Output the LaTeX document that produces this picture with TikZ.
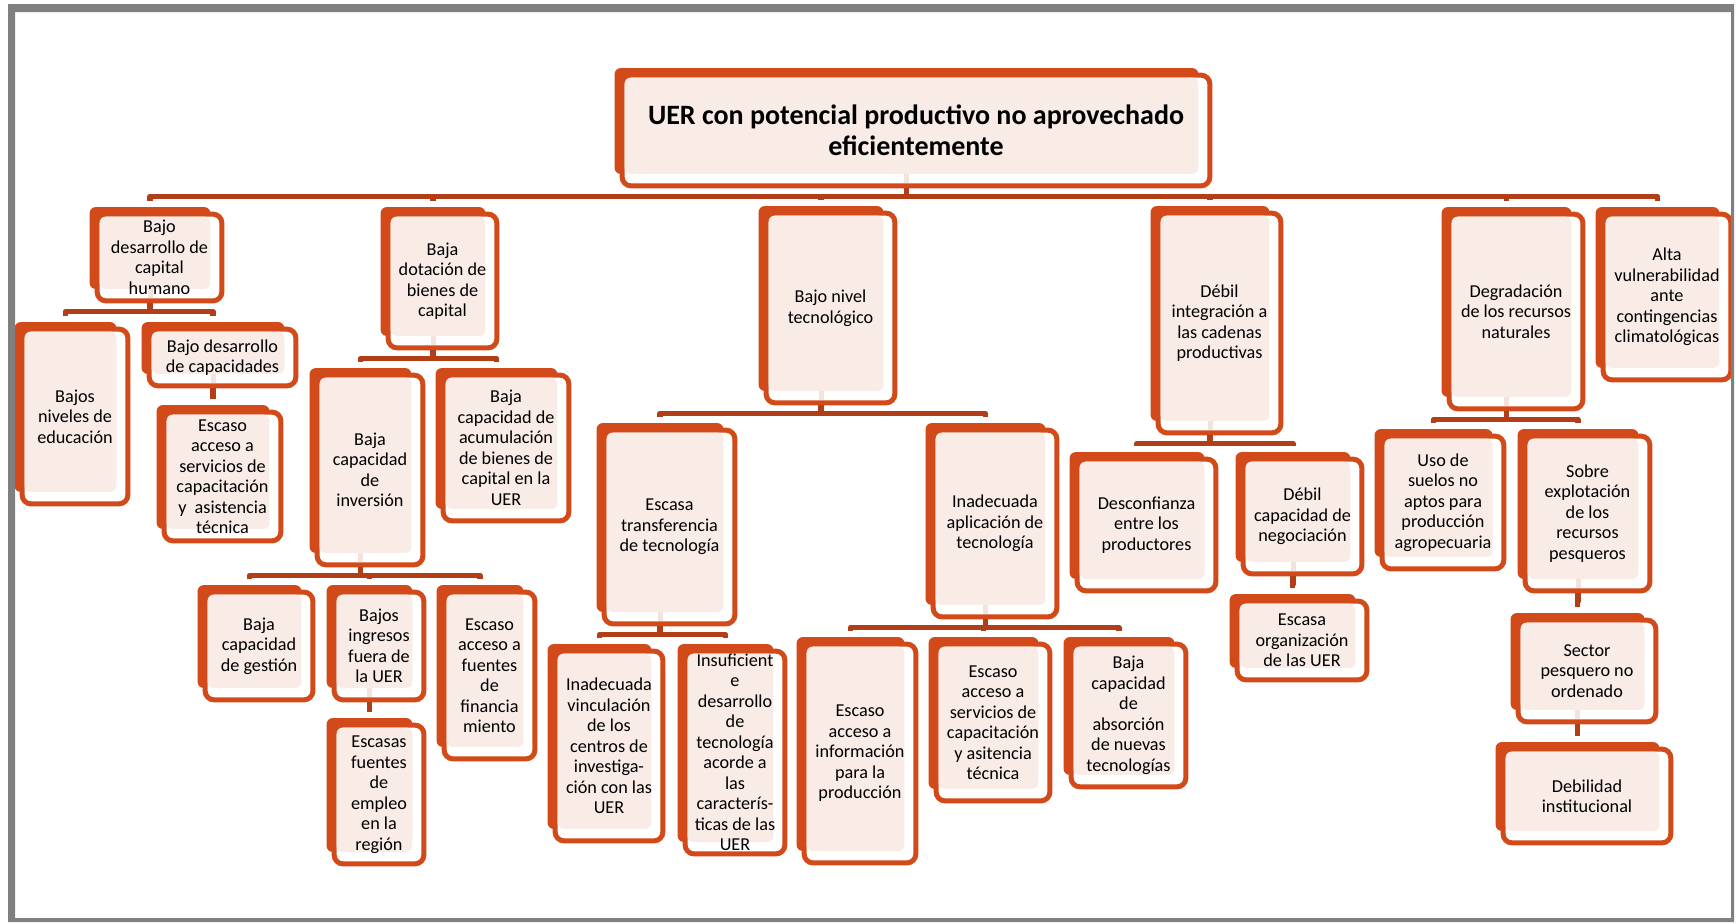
\documentclass[tikz,border=0pt]{standalone}
\usepackage{fontspec}
\setmainfont{Carlito}
\usetikzlibrary{calc}
\definecolor{boxclr}{RGB}{210,74,26}
\definecolor{busclr}{RGB}{178,62,24}
\definecolor{pinkclr}{RGB}{249,235,230}
\definecolor{framegray}{RGB}{128,128,128}
\pgfdeclarelayer{bg}
\pgfdeclarelayer{deco}
\pgfsetlayers{bg,deco,main}

\begin{document}
\begin{tikzpicture}[x=0.5pt,y=-0.5pt,
  cbox/.style={rectangle,inner sep=0pt,align=center,text=black,font=\fontsize{9.1}{10.25}\selectfont},
  sz/.style 2 args={minimum width=#1*0.5pt,minimum height=#2*0.5pt},
  busln/.style={busclr,line width=2.75pt,line join=round,shorten >=3pt},
  stubln/.style={busclr!15,line width=2.5pt}]
  \useasboundingbox (0,0) rectangle (1736,923);
  \begin{pgfonlayer}{bg}
    \fill[white] (0,0) rectangle (1736,923);
  \end{pgfonlayer}
  % top problem
  \node[cbox,sz={592}{115},font=\fontsize{14}{15.3}\selectfont\bfseries] (title) at (916,130.5) {UER con potencial productivo no aprovechado\\eficientemente};
  % first row
  \node[cbox,sz={129}{91}] (capHum) at (159.5,257.5) {Bajo\\desarrollo de\\capital\\humano};
  \node[cbox,sz={113}{138}] (dotacion) at (442.5,281) {Baja\\dotación de\\bienes de\\capital};
  \node[cbox,sz={133}{194}] (nivTec) at (830.5,308) {Bajo nivel\\tecnológico};
  \node[cbox,sz={127}{224}] (integ) at (1219.5,323) {Débil\\integración a\\las cadenas\\productivas};
  \node[cbox,sz={138}{199}] (degrad) at (1516,311.5) {Degradación\\de los recursos\\naturales};
  \node[cbox,sz={132}{170}] (vulner) at (1667,297) {Alta\\vulnerabilidad\\ante\\contingencias\\climatológicas};
  % capital humano
  \node[cbox,sz={110}{179}] (educ) at (75,416.5) {Bajos\\niveles de\\educación};
  \node[cbox,sz={151}{61}] (capac) at (222.5,357.5) {Bajo desarrollo\\de capacidades};
  \node[cbox,sz={121}{133}] (servA) at (222.5,476.5) {Escaso\\acceso a\\servicios de\\capacitación\\y\ \ asistencia\\técnica};
  % bienes de capital
  \node[cbox,sz={110}{194}] (invers) at (370,470) {Baja\\capacidad\\de\\inversión};
  \node[cbox,sz={130}{150}] (acumul) at (506,448) {Baja\\capacidad de\\acumulación\\de bienes de\\capital en la\\UER};
  \node[cbox,sz={112}{112}] (gestion) at (259,646) {Baja\\capacidad\\de gestión};
  \node[cbox,sz={94}{112}] (ingresos) at (379,646) {Bajos\\ingresos\\fuera de\\la UER};
  \node[cbox,sz={94}{143}] (empleo) at (379,794.5) {Escasas\\fuentes\\de\\empleo\\en la\\región};
  \node[cbox,sz={95}{171}] (financ) at (489.5,675.5) {Escaso\\acceso a\\fuentes\\de\\financia\\miento};
  % nivel tecnologico
  \node[cbox,sz={135}{198}] (transf) at (669.5,527) {Escasa\\transferencia\\de tecnología};
  \node[cbox,sz={128}{191}] (aplic) at (995,523.5) {Inadecuada\\aplicación de\\tecnología};
  \node[cbox,sz={112}{194}] (vincul) at (609,746) {Inadecuada\\vinculación\\de los\\centros de\\investiga-\\ción con las\\UER};
  \node[cbox,sz={104}{207}] (insuf) at (735,752.5) {Insuficient\\e\\desarrollo\\de\\tecnología\\acorde a\\las\\caracterís-\\ticas de las\\UER};
  \node[cbox,sz={116}{223}] (info) at (860,753.5) {Escaso\\acceso a\\información\\para la\\producción};
  \node[cbox,sz={118}{161}] (servB) at (993,722.5) {Escaso\\acceso a\\servicios de\\capacitación\\y asitencia\\técnica};
  \node[cbox,sz={119}{147}] (absorc) at (1128.5,715.5) {Baja\\capacidad\\de\\absorción\\de nuevas\\tecnologías};
  % cadenas productivas
  \node[cbox,sz={143}{136}] (desconf) at (1146.5,525) {Desconfianza\\entre los\\productores};
  \node[cbox,sz={123}{119}] (negoc) at (1302.5,516.5) {Débil\\capacidad de\\negociación};
  \node[cbox,sz={134}{83}] (organiz) at (1302,640.5) {Escasa\\organización\\de las UER};
  % recursos naturales
  \node[cbox,sz={126}{137}] (suelos) at (1443,502.5) {Uso de\\suelos no\\aptos para\\producción\\agropecuaria};
  \node[cbox,sz={129}{159}] (sobreexp) at (1587.5,513.5) {Sobre\\explotación\\de los\\recursos\\pesqueros};
  \node[cbox,sz={142}{106}] (sector) at (1587,671) {Sector\\pesquero no\\ordenado};
  \node[cbox,sz={172}{98}] (debil) at (1587,796) {Debilidad\\institucional};
  % box look: solid back, outlined frame, tinted face
  \begin{pgfonlayer}{deco}
    \foreach \n in {title,capHum,dotacion,nivTec,integ,degrad,vulner,educ,capac,servA,invers,acumul,gestion,ingresos,empleo,financ,transf,aplic,vincul,insuf,info,servB,absorc,desconf,negoc,organiz,suelos,sobreexp,sector,debil}{
      \fill[boxclr,rounded corners=3pt] ($(\n.north west)+(-5,-4.5)$) rectangle ($(\n.south east)+(-14,-14.5)$);
      \draw[boxclr,line width=2.5pt,fill=white,rounded corners=4.5pt] ($(\n.north west)+(2.5,2.5)$) rectangle ($(\n.south east)+(-2.5,-2.5)$);
      \fill[pinkclr,rounded corners=3pt] ($(\n.north west)+(5,5)$) rectangle ($(\n.south east)+(-14,-14.5)$);
    }
  \end{pgfonlayer}
  % tree links
  \foreach \p/\c in {title/capHum,title/dotacion,title/nivTec,title/integ,title/degrad,title/vulner,
      capHum/educ,capHum/capac,capac/servA,dotacion/invers,dotacion/acumul,
      invers/gestion,invers/ingresos,invers/financ,ingresos/empleo,
      nivTec/transf,nivTec/aplic,transf/vincul,transf/insuf,aplic/info,aplic/servB,aplic/absorc,
      integ/desconf,integ/negoc,negoc/organiz,degrad/suelos,degrad/sobreexp,sobreexp/sector,sector/debil}{
    \draw[stubln] ([xshift=-4.75pt,yshift=7.25pt]\p.south) -- ([xshift=-4.75pt,yshift=2.5pt]\p.south);
    \draw[busln] ([xshift=-4.75pt]\p.south) -- ++(0,8) -| ([xshift=-4.75pt,yshift=2.25pt]\c.north);
  }
  % outer frame
  \fill[framegray,even odd rule] (8,4) rectangle (1734,922) (15,12) rectangle (1731,918);
\end{tikzpicture}
\end{document}
